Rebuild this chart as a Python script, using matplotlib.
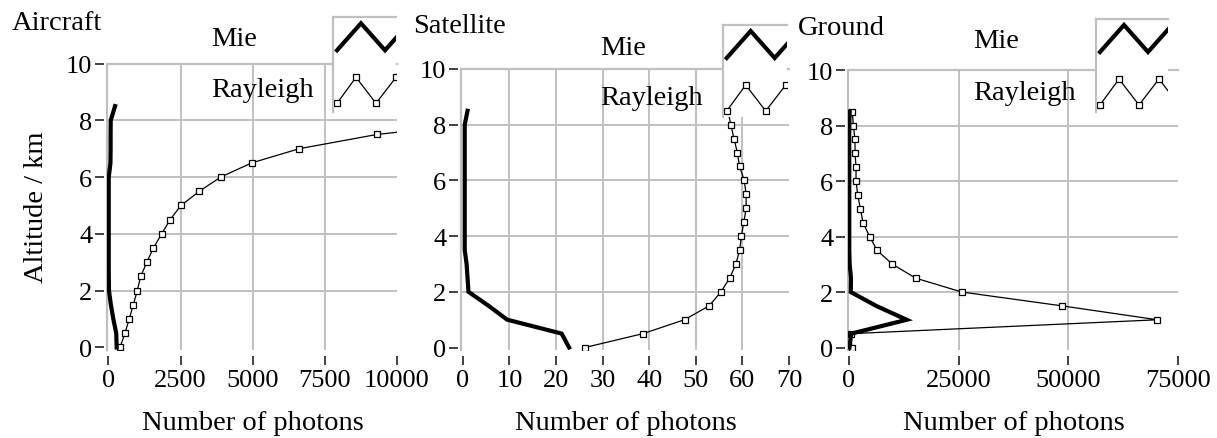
import matplotlib
matplotlib.use("Agg")
import matplotlib.pyplot as plt

plt.rcParams["font.family"] = ["Liberation Serif", "DejaVu Serif"]

# ---------------- data ----------------
altitude_km = [0, 0.5, 1.0, 1.5, 2.0, 2.5, 3.0, 3.5, 4.0, 4.5,
               5.0, 5.5, 6.0, 6.5, 7.0, 7.5, 8.0, 8.5]

aircraft_mie = [285, 270, 170, 85, 18, 12, 10, 10, 10, 10,
                10, 10, 10, 70, 75, 75, 80, 230]
aircraft_rayleigh = [400, 570, 720, 860, 1000, 1115, 1330, 1555, 1845, 2135,
                     2515, 3150, 3890, 4965, 6615, 9300, 13700, 21000]

satellite_mie = [22.8, 21.2, 9.5, 5.5, 1.2, 1.0, 0.8, 0.4, 0.4, 0.4,
                 0.4, 0.4, 0.4, 0.4, 0.4, 0.4, 0.4, 1.0]
satellite_rayleigh = [26.2, 38.7, 47.6, 52.9, 55.4, 57.3, 58.6, 59.4, 59.8, 60.3,
                      60.8, 60.8, 60.4, 59.4, 58.9, 58.2, 57.5, 56.9]

ground_mie = [100, 500, 13150, 6200, 400, 450, 150, 60, 60, 60,
              60, 60, 60, 60, 60, 60, 60, 150]
ground_rayleigh = [600, 500, 70300, 48600, 25700, 15200, 9900, 6400, 4700, 3200,
                   2600, 1980, 1600, 1600, 1370, 1370, 980, 750]

panel_titles = ["Aircraft", "Satellite", "Ground"]
series_labels = ["Mie", "Rayleigh"]
x_label = "Number of photons"
y_label = "Altitude / km"
y_ticks = [0, 2, 4, 6, 8, 10]
x_ticks_aircraft = [0, 2500, 5000, 7500, 10000]
x_ticks_satellite = [0, 10, 20, 30, 40, 50, 60, 70]
x_ticks_ground = [0, 25000, 50000, 75000]

# ---------------- layout (pixels) ----------------
W, H = 1217, 439
fig = plt.figure(figsize=(W / 100, H / 100), dpi=100)
GRID = "#c0c0c0"
TICKFS = 19
LABFS = 20.5


def rect(l, r, t, b):
    return [l / W, 1 - b / H, (r - l) / W, (b - t) / H]


def ftext(x, y, s, **kw):
    fig.text(x / W, 1 - y / H, s, **kw)


panels = [
    dict(title=panel_titles[0], mie=aircraft_mie, ray=aircraft_rayleigh,
         xticks=x_ticks_aircraft, xlim=(-50, 10000),
         box=(107, 397, 64.5, 351.3), legend=(333, 396, 18.3, 113),
         labx=210.7, mie_base=46, ray_base=96.7, title_xy=(11.7, 30)),
    dict(title=panel_titles[1], mie=satellite_mie, ray=satellite_rayleigh,
         xticks=x_ticks_satellite, xlim=(-0.4, 70),
         box=(461, 789, 70, 351.3), legend=(722.7, 787, 26, 118),
         labx=600, mie_base=55, ray_base=105, title_xy=(413.3, 33.3)),
    dict(title=panel_titles[2], mie=ground_mie, ray=ground_rayleigh,
         xticks=x_ticks_ground, xlim=(-230, 75000),
         box=(848, 1178, 71, 351.3), legend=(1096, 1168, 20, 113),
         labx=972.7, mie_base=47.7, ray_base=100, title_xy=(798, 35)),
]

# legend glyph zig-zags (pixel offsets inside the legend box)
zig_mie_x = [4, 28, 52, 76, 100]
zig_mie_y = [33, 6, 33, 6, 33]
zig_ray_x = [4, 23, 43, 63, 83]
zig_ray_y = [86, 60, 86, 60, 86]

for p in panels:
    l, r, t, b = p["box"]
    ax = fig.add_axes(rect(l, r, t, b))
    ax.set_xlim(*p["xlim"])
    ax.set_ylim(-0.1, 10)
    ax.set_facecolor("none")

    # grid (interior only)
    for xv in p["xticks"][1:-1]:
        ax.axvline(xv, color=GRID, lw=1.4, zorder=0)
    for yv in y_ticks[1:-1]:
        ax.axhline(yv, color=GRID, lw=1.4, zorder=0)
    ax.axvline(p["xlim"][0], color=GRID, lw=1.6, zorder=0.5, clip_on=False)

    for s in ["right", "bottom", "left"]:
        ax.spines[s].set_visible(False)
    ax.spines["top"].set_color(GRID)
    ax.spines["top"].set_linewidth(1.6)
    ax.spines["left"].set_position(("outward", 2.5))
    ax.spines["bottom"].set_position(("outward", 4.3))

    ax.set_xticks(p["xticks"])
    ax.set_xticklabels([str(v) for v in p["xticks"]])
    ax.set_yticks(y_ticks)
    ax.set_yticklabels([str(v) for v in y_ticks])
    ax.tick_params(axis="x", direction="out", length=6.5, width=1.2,
                   color="#202020", labelsize=TICKFS, pad=3)
    ax.tick_params(axis="y", direction="out", length=6.5, width=1.2,
                   color="#202020", labelsize=TICKFS, pad=1.5)

    ax.plot(p["ray"], altitude_km, color="black", lw=0.9, marker="s", ms=5.0,
            mfc="white", mec="black", mew=0.9, zorder=3)
    ax.plot(p["mie"], altitude_km, color="black", lw=3.0,
            solid_joinstyle="miter", zorder=4)

    # legend box
    ll, lr, lt, lb = p["legend"]
    lax = fig.add_axes(rect(ll, lr, lt, lb), zorder=10)
    lax.set_facecolor("white")
    lax.set_xlim(0, lr - ll)
    lax.set_ylim(lb - lt, 0)
    lax.set_xticks([])
    lax.set_yticks([])
    for s in ["right", "bottom"]:
        lax.spines[s].set_visible(False)
    for s in ["top", "left"]:
        lax.spines[s].set_color(GRID)
        lax.spines[s].set_linewidth(1.6)
    lax.plot(zig_mie_x, zig_mie_y, color="black", lw=3.0, solid_joinstyle="miter")
    lax.plot(zig_ray_x, zig_ray_y, color="black", lw=0.9, marker="s", ms=5.0,
             mfc="white", mec="black", mew=0.9)

    ftext(p["labx"], p["mie_base"], series_labels[0], fontsize=LABFS,
          ha="left", va="baseline")
    ftext(p["labx"], p["ray_base"], series_labels[1], fontsize=LABFS,
          ha="left", va="baseline")
    ftext(p["title_xy"][0], p["title_xy"][1], p["title"], fontsize=LABFS,
          ha="left", va="baseline")
    xc = l + (r - l) / 2 + 1
    ftext(xc, 430, x_label, fontsize=LABFS, ha="center", va="baseline")

ftext(37, 207.5, y_label, fontsize=LABFS, rotation=90, ha="center", va="center")

fig.savefig("out.png", dpi=100)
